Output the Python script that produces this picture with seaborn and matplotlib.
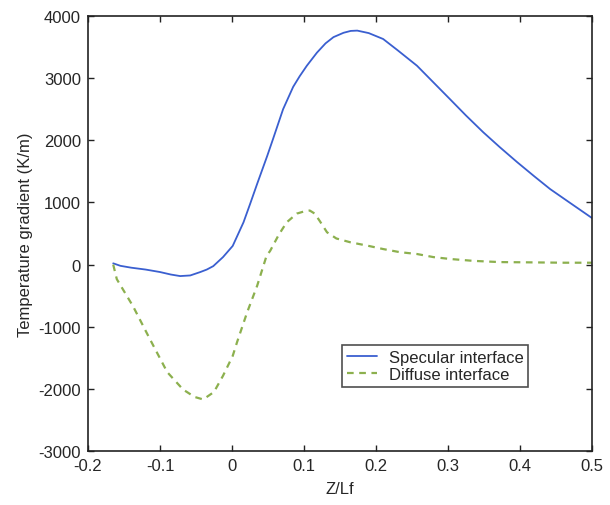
import matplotlib
matplotlib.use('Agg')
import matplotlib.pyplot as plt
import pandas as pd
import seaborn as sns

# Specular interface curve
spec_x = [-0.165, -0.155, -0.14, -0.12, -0.1, -0.085, -0.072, -0.058, -0.044, -0.035,
          -0.026, -0.0125, 0.001, 0.016, 0.025, 0.035, 0.049, 0.057, 0.071, 0.085,
          0.094, 0.104, 0.118, 0.13, 0.141, 0.155, 0.165, 0.174, 0.19, 0.21,
          0.23, 0.257, 0.28, 0.303, 0.325, 0.349, 0.372, 0.396, 0.42, 0.442,
          0.47, 0.5]
spec_y = [20, -20, -50, -80, -120, -160, -185, -175, -120, -80,
          -25, 120, 300, 680, 970, 1300, 1750, 2020, 2500, 2860,
          3030, 3200, 3410, 3560, 3660, 3730, 3760, 3765, 3725, 3630,
          3450, 3200, 2930, 2660, 2400, 2130, 1890, 1650, 1420, 1215,
          990, 750]

# Diffuse interface curve
diff_x = [-0.165, -0.16, -0.1375, -0.114, -0.09, -0.068, -0.052, -0.04, -0.025, -0.0125,
          0.001, 0.007, 0.021, 0.035, 0.048, 0.053, 0.065, 0.076, 0.09, 0.1,
          0.108, 0.115, 0.122, 0.132, 0.145, 0.164, 0.19, 0.21, 0.233, 0.257,
          0.28, 0.303, 0.335, 0.372, 0.42, 0.46, 0.5]
diff_y = [0, -235, -670, -1200, -1730, -2010, -2130, -2170, -2050, -1790,
          -1470, -1250, -770, -340, 140, 220, 480, 680, 820, 855,
          870, 820, 700, 520, 420, 360, 300, 250, 200, 170,
          120, 90, 60, 40, 35, 30, 30]

x_ticks = [-0.2, -0.1, 0, 0.1, 0.2, 0.3, 0.4, 0.5]
x_labels = ['-0.2', '-0.1', '0', '0.1', '0.2', '0.3', '0.4', '0.5']
y_ticks = [-3000, -2000, -1000, 0, 1000, 2000, 3000, 4000]
y_labels = ['-3000', '-2000', '-1000', '0', '1000', '2000', '3000', '4000']

spec = pd.DataFrame({'z': spec_x, 'grad': spec_y})
diff = pd.DataFrame({'z': diff_x, 'grad': diff_y})

sns.set_style('ticks')
plt.rcParams['font.family'] = ['Liberation Sans', 'DejaVu Sans']

fig = plt.figure(figsize=(6.1, 5.06), dpi=100)
ax = fig.add_axes([0.1443, 0.1067, 0.826, 0.8597])

sns.lineplot(data=spec, x='z', y='grad', sort=False, ax=ax, color='#3a5fd0',
             linewidth=1.3, label='Specular interface')
sns.lineplot(data=diff, x='z', y='grad', sort=False, ax=ax, color='#8cb04e',
             linewidth=1.6, linestyle=(0, (3, 2.5)), label='Diffuse interface')

ax.set_xlim(-0.2, 0.5)
ax.set_ylim(-3000, 4000)
ax.set_xticks(x_ticks)
ax.set_xticklabels(x_labels, fontsize=12)
ax.set_yticks(y_ticks)
ax.set_yticklabels(y_labels, fontsize=12)
ax.tick_params(direction='in', length=4, width=1, top=True, right=True, color='#222222', pad=5)
for sp in ax.spines.values():
    sp.set_visible(True)
    sp.set_linewidth(1.2)
    sp.set_color('#222222')

ax.set_xlabel('Z/Lf', fontsize=12, labelpad=6)
ax.set_ylabel('Temperature gradient (K/m)', fontsize=12, labelpad=4)

leg = ax.legend(loc='lower left', bbox_to_anchor=(0.504, 0.147), fontsize=12,
                frameon=True, fancybox=False, handlelength=1.8, labelspacing=0.15,
                borderpad=0.3, handletextpad=0.7, borderaxespad=0)
leg.get_frame().set_edgecolor('#222222')
leg.get_frame().set_linewidth(1.2)

fig.savefig('out.png', dpi=100)
